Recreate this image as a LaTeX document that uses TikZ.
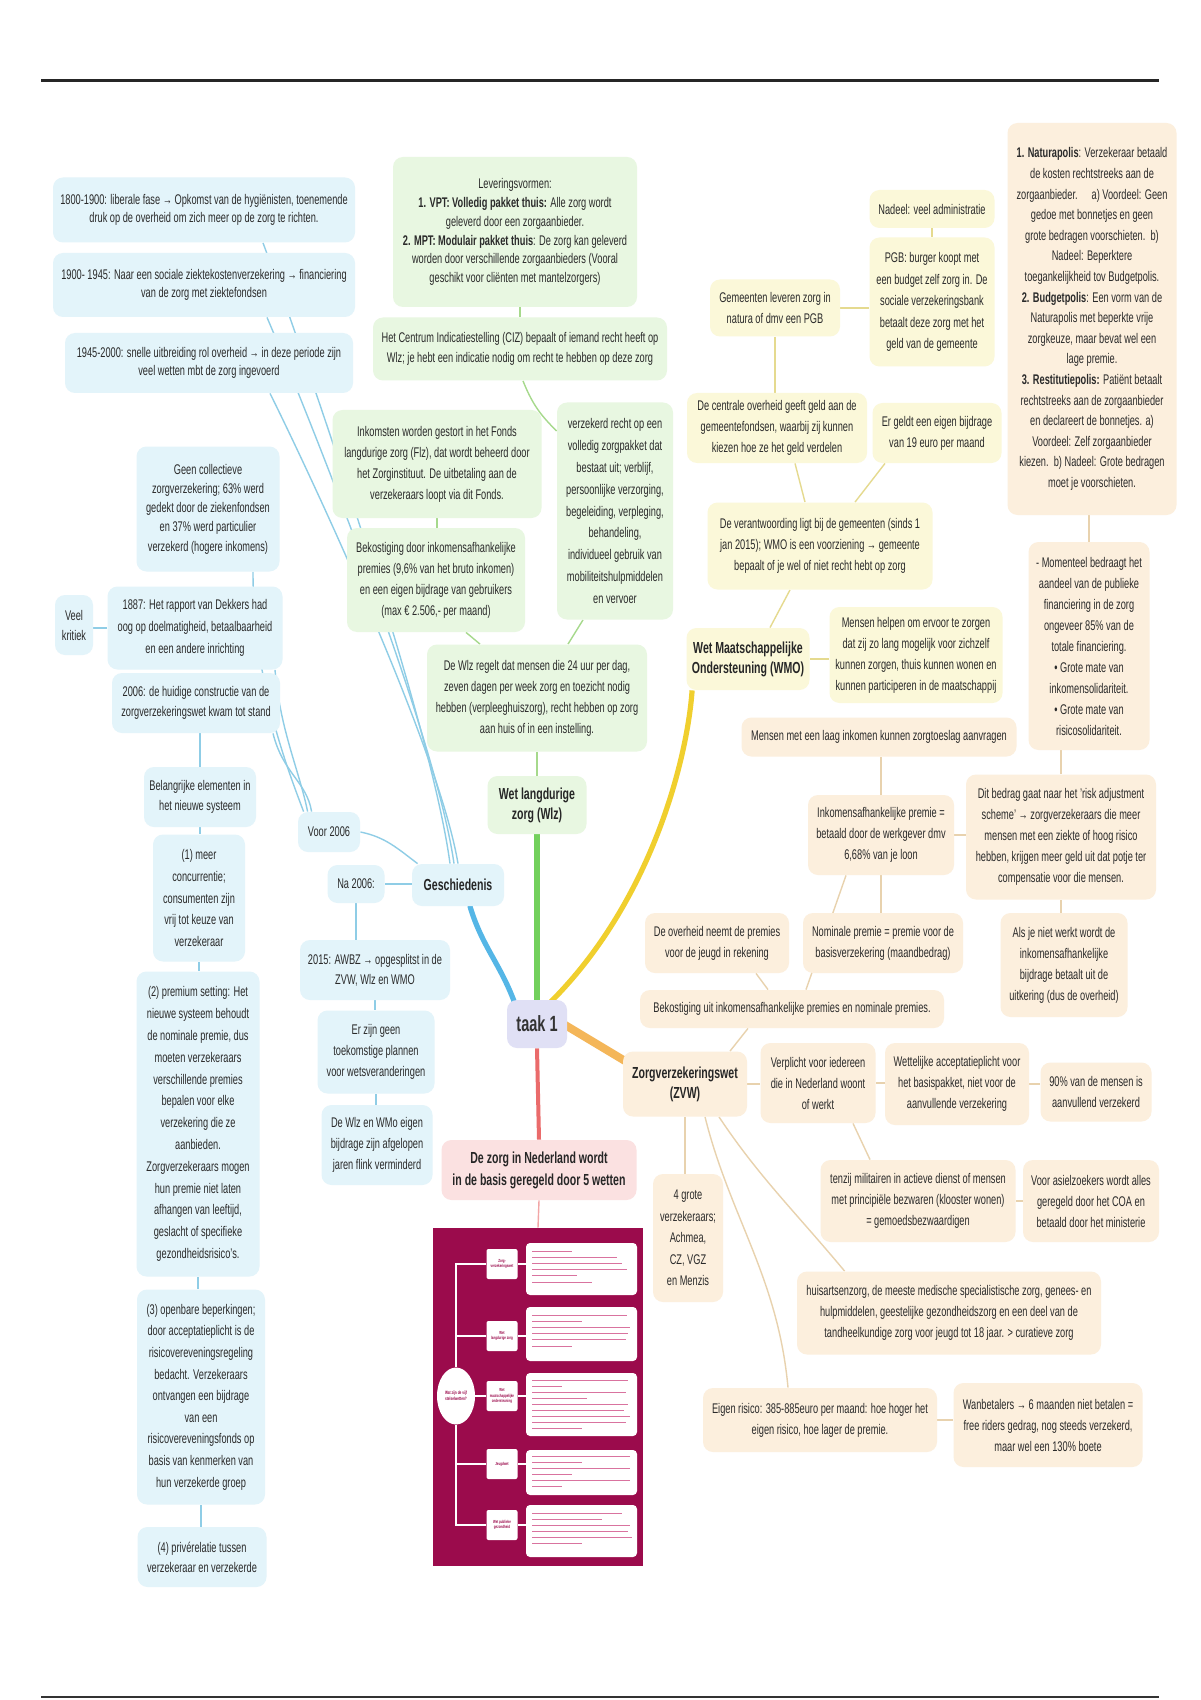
\documentclass[tikz,border=0pt]{standalone}
\usepackage{fontspec}
\setmainfont{Liberation Sans}[FakeStretch=0.66]
\usetikzlibrary{calc,shapes.geometric}
\pgfdeclarelayer{background}
\pgfsetlayers{background,main}
\definecolor{bfill}{HTML}{E3F4FA}
\definecolor{bline}{HTML}{8FCDE6}
\definecolor{bthick}{HTML}{55B6E6}
\definecolor{gfill}{HTML}{E8F7E1}
\definecolor{gline}{HTML}{A6D98C}
\definecolor{gthick}{HTML}{72D05C}
\definecolor{yfill}{HTML}{FBF8D9}
\definecolor{yline}{HTML}{E5DA8F}
\definecolor{ythick}{HTML}{F0CF2E}
\definecolor{ofill}{HTML}{FCEFDD}
\definecolor{oline}{HTML}{E8D2AE}
\definecolor{othick}{HTML}{F4B659}
\definecolor{pfill}{HTML}{FBE1E1}
\definecolor{rthick}{HTML}{EA6B6B}
\definecolor{tfill}{HTML}{E0E0F5}
\definecolor{imgred}{HTML}{9B0B4C}
\definecolor{stripe}{HTML}{D9739F}
\definecolor{txt}{HTML}{2A2A2A}
\tikzset{
  sz/.style 2 args={minimum width={#1*0.5pt},minimum height={#2*0.5pt}},
  box/.style={rounded corners=5pt, align=center, inner sep=1pt, text=txt, font={\fontsize{7}{10}\selectfont}},
  ls/.style={font={\fontsize{7}{#1}\selectfont}},
  hd/.style={font={\fontsize{8}{10}\selectfont\bfseries}, text=black!85},
  bb/.style={box, fill=bfill},
  gb/.style={box, fill=gfill},
  yb/.style={box, fill=yfill},
  ob/.style={box, fill=ofill},
  bl/.style={draw=bline, line width=0.7pt},
  gl/.style={draw=gline, line width=0.7pt},
  yl/.style={draw=yline, line width=0.7pt},
  ol/.style={draw=oline, line width=0.7pt},
  wl/.style={draw=white, line width=1pt},
  lab/.style={fill=white, rounded corners=1pt, align=center, text=imgred, inner sep=0.5pt, font={\fontsize{2.2}{2.6}\selectfont\bfseries}},
  cbox/.style={fill=white, rounded corners=2pt, minimum width=55.5pt},
  strp/.style={draw=stripe, line width=0.45pt},
}
\begin{document}
\begin{tikzpicture}[x=0.5pt,y=-0.5pt]
\begin{pgfonlayer}{background}
\fill[white] (0,0) rectangle (1200,1700);
\end{pgfonlayer}
\useasboundingbox (0,0) rectangle (1200,1700);
\draw[line width=1.5pt, black!85] (41,81) -- (1159,81);
\draw[line width=1pt, black!80] (41,1697) -- (1159,1697);

% ---------- Geschiedenis (blue) ----------
\node[bb,ls=9.2,sz={302}{65}] (h1800) at (204,210) {1800-1900: liberale fase → Opkomst van de hygiënisten, toenemende\\druk op de overheid om zich meer op de zorg te richten.};
\node[bb,ls=9.2,sz={302}{64}] (h1900) at (204,285) {1900- 1945: Naar een sociale ziektekostenverzekering → financiering\\van de zorg met ziektefondsen};
\node[bb,ls=9.2,sz={288}{60}] (h1945) at (209,363) {1945-2000: snelle uitbreiding rol overheid → in deze periode zijn\\veel wetten mbt de zorg ingevoerd};
\node[bb,ls=9.6,sz={143}{125}] (geen) at (208,509) {Geen collectieve\\zorgverzekering; 63\% werd\\gedekt door de ziekenfondsen\\en 37\% werd particulier\\verzekerd (hogere inkomens)};
\node[bb,sz={38}{60}] (kritiek) at (74,625) {Veel\\kritiek};
\node[bb,ls=11,sz={175}{83}] (h1887) at (195,628) {1887: Het rapport van Dekkers had\\oog op doelmatigheid, betaalbaarheid\\en een andere inrichting};
\node[bb,ls=10,sz={168}{60}] (h2006) at (196,703) {2006: de huidige constructie van de\\zorgverzekeringswet kwam tot stand};
\node[bb,ls=10,sz={112}{60}] (belang) at (200,797) {Belangrijke elementen in\\het nieuwe systeem};
\node[bb,ls=10.8,sz={92}{127}] (e1) at (199,898) {(1) meer\\concurrentie;\\consumenten zijn\\vrij tot keuze van\\verzekeraar};
\node[bb,ls=10.9,sz={123}{305}] (e2) at (198,1124) {(2) premium setting: Het\\nieuwe systeem behoudt\\de nominale premie, dus\\moeten verzekeraars\\verschillende premies\\bepalen voor elke\\verzekering die ze\\aanbieden.\\Zorgverzekeraars mogen\\hun premie niet laten\\afhangen van leeftijd,\\geslacht of specifieke\\gezondheidsrisico's.};
\node[bb,ls=10.8,sz={128}{215}] (e3) at (201,1397) {(3) openbare beperkingen;\\door acceptatieplicht is de\\risicovereveningsregeling\\bedacht. Verzekeraars\\ontvangen een bijdrage\\van een\\risicovereveningsfonds op\\basis van kenmerken van\\hun verzekerde groep};
\node[bb,ls=10,sz={129}{60}] (e4) at (202,1557) {(4) privérelatie tussen\\verzekeraar en verzekerde};
\node[bb,sz={62}{40}] (voor) at (329,832) {Voor 2006};
\node[bb,sz={57}{38}] (na) at (356,884) {Na 2006:};
\node[bb,hd,sz={92}{42}] (gesch) at (458,885) {Geschiedenis};
\node[bb,ls=10,sz={150}{60}] (awbz) at (375,970) {2015: AWBZ → opgesplitst in de\\ZVW, Wlz en WMO};
\node[bb,ls=10.5,sz={117}{83}] (geenpl) at (376,1052) {Er zijn geen\\toekomstige plannen\\voor wetsveranderingen};
\node[bb,ls=10.5,sz={111}{80}] (wlzwmo) at (377,1145) {De Wlz en WMo eigen\\bijdrage zijn afgelopen\\jaren flink verminderd};

% ---------- centre ----------
\node[box,fill=tfill,font={\fontsize{11}{12}\selectfont\bfseries},text=black!80,sz={60}{48}] (taak) at (537,1024) {taak 1};

% ---------- Wlz (green) ----------
\node[gb,ls=9.4,sz={244}{150}] (lever) at (515,232) {Leveringsvormen:\\\textbf{1. VPT: Volledig pakket thuis:} Alle zorg wordt\\geleverd door een zorgaanbieder.\\\textbf{2. MPT: Modulair pakket thuis}: De zorg kan geleverd\\worden door verschillende zorgaanbieders (Vooral\\geschikt voor cliënten met mantelzorgers)};
\node[gb,ls=10,sz={294}{63}] (ciz) at (520,349) {Het Centrum Indicatiestelling (CIZ) bepaalt of iemand recht heeft op\\Wlz; je hebt een indicatie nodig om recht te hebben op deze zorg};
\node[gb,ls=10.5,sz={209}{108}] (inkom) at (437,464) {Inkomsten worden gestort in het Fonds\\langdurige zorg (Flz), dat wordt beheerd door\\het Zorginstituut. De uitbetaling aan de\\verzekeraars loopt via dit Fonds.};
\node[gb,ls=10.5,sz={178}{104}] (bekwlz) at (436,580) {Bekostiging door inkomensafhankelijke\\premies (9,6\% van het bruto inkomen)\\en een eigen bijdrage van gebruikers\\(max € 2.506,- per maand)};
\node[gb,ls=10.9,sz={116}{217}] (verz) at (615,511) {verzekerd recht op een\\volledig zorgpakket dat\\bestaat uit; verblijf,\\persoonlijke verzorging,\\begeleiding, verpleging,\\behandeling,\\individueel gebruik van\\mobiliteitshulpmiddelen\\en vervoer};
\node[gb,ls=10.5,sz={220}{107}] (wlzreg) at (537,698) {De Wlz regelt dat mensen die 24 uur per dag,\\zeven dagen per week zorg en toezicht nodig\\hebben (verpleeghuiszorg), recht hebben op zorg\\aan huis of in een instelling.};
\node[gb,hd,sz={99}{58}] (wlz) at (537,805) {Wet langdurige\\zorg (Wlz)};

% ---------- WMO (yellow) ----------
\node[yb,sz={125}{38}] (nadeel) at (932,209) {Nadeel: veel administratie};
\node[yb,ls=10.7,sz={125}{129}] (pgb) at (932,302) {PGB: burger koopt met\\een budget zelf zorg in. De\\sociale verzekeringsbank\\betaalt deze zorg met het\\geld van de gemeente};
\node[yb,ls=10.5,sz={130}{57}] (gemeenten) at (775,308) {Gemeenten leveren zorg in\\natura of dmv een PGB};
\node[yb,ls=10.5,sz={180}{70}] (centrale) at (777,428) {De centrale overheid geeft geld aan de\\gemeentefondsen, waarbij zij kunnen\\kiezen hoe ze het geld verdelen};
\node[yb,ls=10.5,sz={129}{60}] (eigen19) at (937,433) {Er geldt een eigen bijdrage\\van 19 euro per maand};
\node[yb,ls=10.5,sz={225}{87}] (verantw) at (820,546) {De verantwoording ligt bij de gemeenten (sinds 1\\jan 2015); WMO is een voorziening → gemeente\\bepaalt of je wel of niet recht hebt op zorg};
\node[yb,hd,sz={123}{62}] (wmo) at (748,659) {Wet Maatschappelijke\\Ondersteuning (WMO)};
\node[yb,ls=10.5,sz={173}{96}] (helpen) at (916,655) {Mensen helpen om ervoor te zorgen\\dat zij zo lang mogelijk voor zichzelf\\kunnen zorgen, thuis kunnen wonen en\\kunnen participeren in de maatschappij};

% ---------- ZVW (beige) ----------
\node[ob,ls=10.3,sz={169}{392}] (natura) at (1092,319) {\textbf{1. Naturapolis}: Verzekeraar betaald\\de kosten rechtstreeks aan de\\zorgaanbieder.\quad a) Voordeel: Geen\\gedoe met bonnetjes en geen\\grote bedragen voorschieten.\ \ b)\\Nadeel: Beperktere\\toegankelijkheid tov Budgetpolis.\\\textbf{2. Budgetpolis}: Een vorm van de\\Naturapolis met beperkte vrije\\zorgkeuze, maar bevat wel een\\lage premie.\\\textbf{3. Restitutiepolis:} Patiënt betaalt\\rechtstreeks aan de zorgaanbieder\\en declareert de bonnetjes. a)\\Voordeel: Zelf zorgaanbieder\\kiezen.\ \ b) Nadeel: Grote bedragen\\moet je voorschieten.};
\node[ob,ls=10.5,sz={121}{208}] (moment) at (1089,646) {- Momenteel bedraagt het\\aandeel van de publieke\\financiering in de zorg\\ongeveer 85\% van de\\totale financiering.\\• Grote mate van\\inkomensolidariteit.\\• Grote mate van\\risicosolidariteit.};
\node[ob,sz={275}{39}] (laag) at (879,737) {Mensen met een laag inkomen kunnen zorgtoeslag aanvragen};
\node[ob,ls=10.5,sz={146}{80}] (inkpr) at (881,835) {Inkomensafhankelijke premie =\\betaald door de werkgever dmv\\6,68\% van je loon};
\node[ob,ls=10.5,sz={190}{125}] (dit) at (1061,837) {Dit bedrag gaat naar het 'risk adjustment\\scheme' → zorgverzekeraars die meer\\mensen met een ziekte of hoog risico\\hebben, krijgen meer geld uit dat potje ter\\compensatie voor die mensen.};
\node[ob,ls=10.5,sz={160}{60}] (nomin) at (883,943) {Nominale premie = premie voor de\\basisverzekering (maandbedrag)};
\node[ob,ls=10.5,sz={144}{60}] (overh) at (717,943) {De overheid neemt de premies\\voor de jeugd in rekening};
\node[ob,ls=10.5,sz={127}{104}] (alsje) at (1064,965) {Als je niet werkt wordt de\\inkomensafhankelijke\\bijdrage betaalt uit de\\uitkering (dus de overheid)};
\node[ob,sz={304}{38}] (bekuit) at (792,1009) {Bekostiging uit inkomensafhankelijke premies en nominale premies.};
\node[ob,hd,sz={124}{65}] (zvw) at (685,1084) {Zorgverzekeringswet\\(ZVW)};
\node[ob,ls=10.5,sz={115}{80}] (verpl) at (818,1083) {Verplicht voor iedereen\\die in Nederland woont\\of werkt};
\node[ob,ls=10.5,sz={144}{82}] (wett) at (957,1084) {Wettelijke acceptatieplicht voor\\het basispakket, niet voor de\\aanvullende verzekering};
\node[ob,ls=10.5,sz={111}{59}] (negen) at (1096,1092) {90\% van de mensen is\\aanvullend verzekerd};
\node[ob,ls=10.5,sz={195}{82}] (tenzij) at (918,1201) {tenzij militairen in actieve dienst of mensen\\met principiële bezwaren (klooster wonen)\\= gemoedsbezwaardigen};
\node[ob,ls=10.5,sz={136}{82}] (asiel) at (1091,1201) {Voor asielzoekers wordt alles\\geregeld door het COA en\\betaald door het ministerie};
\node[ob,ls=10.8,sz={70}{128}] (vier) at (688,1238) {4 grote\\verzekeraars;\\Achmea,\\CZ, VGZ\\en Menzis};
\node[ob,ls=10.5,sz={304}{83}] (huis) at (949,1313) {huisartsenzorg, de meeste medische specialistische zorg, genees- en\\hulpmiddelen, geestelijke gezondheidszorg en een deel van de\\tandheelkundige zorg voor jeugd tot 18 jaar. > curatieve zorg};
\node[ob,ls=10.5,sz={234}{64}] (eigenr) at (820,1420) {Eigen risico: 385-885euro per maand: hoe hoger het\\eigen risico, hoe lager de premie.};
\node[ob,ls=10.5,sz={189}{84}] (wanb) at (1048,1425) {Wanbetalers → 6 maanden niet betalen =\\free riders gedrag, nog steeds verzekerd,\\maar wel een 130\% boete};

% ---------- red branch ----------
\node[box,fill=pfill,font={\fontsize{8}{11}\selectfont\bfseries},text=black!85,sz={195}{60}] (dezorg) at (539,1170) {De zorg in Nederland wordt\\in de basis geregeld door 5 wetten};
\node[fill=imgred,inner sep=0pt,sz={210}{338}] (img) at (538,1397) {};
\node[ellipse,fill=white,inner sep=0pt,sz={38}{57},align=center,text=imgred,font={\fontsize{2.4}{2.9}\selectfont\bfseries}] (q) at (456,1396) {Wat zijn de vijf\\stelselwetten?};
\node[lab,sz={31}{30}] (l1) at (502,1264) {Zorg-\\verzekeringswet};
\node[lab,sz={31}{30}] (l2) at (502,1336) {Wet\\langdurige zorg};
\node[lab,sz={31}{30}] (l3) at (502,1396) {Wet\\maatschappelijke\\ondersteuning};
\node[lab,sz={31}{30}] (l4) at (502,1464) {Jeugdwet};
\node[lab,sz={31}{30}] (l5) at (502,1525) {Wet publieke\\gezondheid};
\node[cbox,minimum height=26pt] (c1) at (581.5,1269) {};
\node[cbox,minimum height=27pt] (c2) at (581.5,1334) {};
\node[cbox,minimum height=31.5pt] (c3) at (581.5,1404.5) {};
\node[cbox,minimum height=22.5pt] (c4) at (581.5,1472.5) {};
\node[cbox,minimum height=26pt] (c5) at (581.5,1531) {};
\foreach \yy/\ll in {1251/40,1257/85,1263/90,1269/95,1275/45,1282/60,
                     1315/95,1321/50,1327/98,1333/96,1339/94,1346/40,
                     1380/96,1386/30,1392/94,1398/55,1404/96,1410/92,1416/98,1422/94,1428/50,
                     1456/98,1462/50,1468/98,1474/40,1480/98,1486/30,
                     1513/90,1519/70,1525/98,1531/96,1537/100,1543/50}
  {\draw[strp] (532,\yy) -- ++(\ll,0);}

% ---------- connectors ----------
\begin{pgfonlayer}{background}
% thick branches
\draw[bthick,line width=2.6pt,line cap=round] ($(taak.north west)+(8,3)$) .. controls +(-15,-40) and +(12,40) .. ($(gesch.south)+(12,0)$);
\draw[gthick,line width=2.6pt] (taak.north) -- (wlz.south);
\draw[ythick,line width=2.6pt] ($(taak.north)+(14,2)$) .. controls +(100,-100) and +(-5,70) .. ($(wmo.south west)+(6,0)$);
\draw[othick,line width=4pt] ($(taak.east)+(-4,0)$) -- ($(zvw.north west)+(6,12)$);
\draw[rthick,line width=2pt] (taak.south) -- (dezorg.north);
\draw[draw=rthick!60,line width=0.7pt] (dezorg.south) -- (img.north);
% blue
\draw[bl] ($(gesch.north)+(-8,0)$) .. controls +(-20,-150) and +(30,80) .. ($(h1800.south)+(59,0)$);
\draw[bl] ($(gesch.north)+(-4,0)$) .. controls +(-20,-140) and +(30,70) .. ($(h1900.south)+(63,0)$);
\draw[bl] (gesch.north) .. controls +(-20,-120) and +(30,60) .. ($(h1945.south)+(61,0)$);
\draw[bl] ($(voor.north west)+(6,0)$) .. controls +(-15,-40) and +(0,110) .. ($(geen.south)+(45,0)$);
\draw[bl] ($(voor.north west)+(10,0)$) .. controls +(-8,-40) and +(5,60) .. ($(h1887.south)+(80,0)$);
\draw[bl] ($(voor.north west)+(14,0)$) .. controls +(-5,-30) and +(10,40) .. ($(h2006.south)+(77,0)$);
\draw[bl] (voor.east) .. controls +(25,5) and +(-20,-15) .. ($(gesch.north west)+(6,0)$);
\draw[bl] (na.east) -- (na.east -| gesch.west);
\draw[bl] (na.south) -- (na.south |- awbz.north);
\draw[bl] (awbz.south) -- (awbz.south |- geenpl.north);
\draw[bl] (geenpl.south) -- (geenpl.south |- wlzwmo.north);
\draw[bl] (h1887.west) -- (h1887.west -| kritiek.east);
\draw[bl] (belang.north) -- (belang.north |- h2006.south);
\draw[bl] (belang.south) -- (belang.south |- e1.north);
\draw[bl] (e1.south) -- (e1.south |- e2.north);
\draw[bl] (e2.south) -- (e2.south |- e3.north);
\draw[bl] (e3.south) -- (e3.south |- e4.north);
% green
\draw[gl] (ciz.north) -- (ciz.north |- lever.south);
\draw[gl] ($(ciz.south)+(3,0)$) .. controls +(10,25) and +(-15,-15) .. ($(verz.west)+(0,-80)$);
\draw[gl] ($(verz.south)+(-32,0)$) -- ($(wlzreg.north)+(31,0)$);
\draw[gl] ($(bekwlz.south)+(30,0)$) -- ($(wlzreg.north)+(-57,0)$);
\draw[gl] (inkom.south) -- (inkom.south |- bekwlz.north);
\draw[gl] (wlzreg.south) -- (wlzreg.south |- wlz.north);
% yellow
\draw[yl] ($(wmo.north)+(22,0)$) -- ($(verantw.south)+(-30,0)$);
\draw[yl] ($(verantw.north)+(-15,0)$) -- ($(centrale.south)+(18,0)$);
\draw[yl] ($(verantw.north)+(35,0)$) -- ($(eigen19.south)+(-52,0)$);
\draw[yl] (gemeenten.south) -- (gemeenten.south |- centrale.north);
\draw[yl] (gemeenten.east) -- (gemeenten.east -| pgb.west);
\draw[yl] (pgb.north) -- (nadeel.south);
\draw[yl] (wmo.east) -- (wmo.east -| helpen.west);
% beige
\draw[ol] (moment.north) -- (moment.north |- natura.south);
\draw[ol] (dit.north) -- (dit.north |- moment.south);
\draw[ol] (dit.south) -- (dit.south |- alsje.north);
\draw[ol] (inkpr.east) -- (inkpr.east -| dit.west);
\draw[ol] (inkpr.north) -- (inkpr.north |- laag.south);
\draw[ol] (inkpr.south) -- (inkpr.south |- nomin.north);
\draw[ol] ($(bekuit.north)+(14,0)$) -- ($(inkpr.south)+(-35,0)$);
\draw[ol] ($(bekuit.north)+(-24,0)$) -- ($(overh.south)+(39,0)$);
\draw[ol] ($(zvw.north)+(45,0)$) -- ($(bekuit.south)+(-44,0)$);
\draw[ol] (zvw.east) -- (zvw.east -| verpl.west);
\draw[ol] (verpl.east) -- (verpl.east -| wett.west);
\draw[ol] (wett.east) -- (wett.east -| negen.west);
\draw[ol] ($(verpl.south)+(35,0)$) -- ($(tenzij.north)+(-48,0)$);
\draw[ol] (tenzij.east) -- (tenzij.east -| asiel.west);
\draw[ol] (zvw.south) -- (zvw.south |- vier.north);
\draw[ol] ($(zvw.south)+(34,0)$) .. controls +(40,60) and +(-50,-60) .. ($(huis.north west)+(48,0)$);
\draw[ol] ($(zvw.south)+(20,0)$) .. controls +(25,100) and +(-10,-110) .. ($(eigenr.north)+(-32,0)$);
\draw[ol] (eigenr.east) -- (eigenr.east -| wanb.west);
\end{pgfonlayer}
% white structure inside the picture
\draw[wl] (l1.west) -| (q.north);
\draw[wl] (l5.west) -| (q.south);
\draw[wl] (l2.west) -- (l2.west -| q.north);
\draw[wl] (l4.west) -- (l4.west -| q.south);
\draw[wl] (q.east) -- (l3.west);
\foreach \i in {1,...,5} {\draw[wl] (l\i.east) -- (l\i.east -| c\i.west);}
\end{tikzpicture}
\end{document}
